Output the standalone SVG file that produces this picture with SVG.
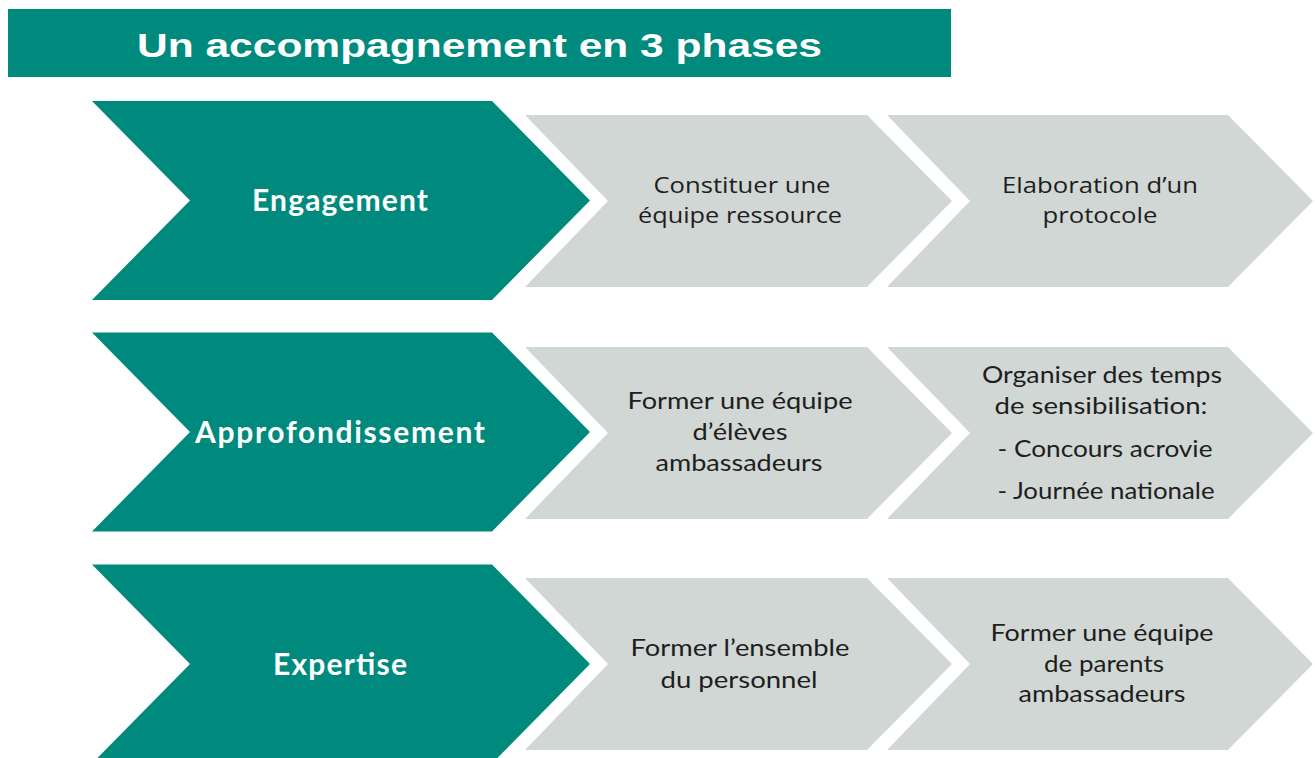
<svg xmlns="http://www.w3.org/2000/svg" width="1315" height="758" viewBox="0 0 1315 758">
  <style>
    .green { fill: #008A7E; }
    .gray { fill: #D1D7D4; }
    .title { font-family: "Liberation Sans", Arial, sans-serif; font-weight: bold; font-size: 33px; fill: #FFFFFF; }
    .phase { font-family: Lato, "Open Sans", sans-serif; font-weight: bold; font-size: 30px; fill: #FFFFFF; text-anchor: middle; }
    .step { font-family: "Open Sans", Lato, sans-serif; font-size: 22px; fill: #1E1E1E; text-anchor: middle; }
    .step2 { font-family: Lato, "Open Sans", sans-serif; font-size: 24px; fill: #1E1E1E; text-anchor: middle; }
  </style>
  <defs>
    <path id="chevGreen" d="M92,-99.5 L492,-99.5 L590,0 L492,99.5 L92,99.5 L190,0 Z"/>
    <path id="chevGray1" d="M525,-86 L867,-86 L952,0 L867,86 L525,86 L608,0 Z"/>
    <path id="chevGray2" d="M887,-86 L1228,-86 L1313,0 L1228,86 L887,86 L970,0 Z"/>
  </defs>
  <rect width="1315" height="758" fill="#FFFFFF"/>

  <g id="title">
    <rect class="green" x="8" y="9" width="943" height="68"/>
    <text class="title" x="137" y="57" textLength="685" lengthAdjust="spacingAndGlyphs">Un accompagnement en 3 phases</text>
  </g>

  <g id="connectors"/>

  <!-- Row 1 -->
  <g id="engagement" transform="translate(0,200.5)">
    <use href="#chevGreen" class="green"/>
    <text class="phase" x="340" y="10" textLength="176">Engagement</text>
  </g>
  <g id="constituer" transform="translate(0,201)">
    <use href="#chevGray1" class="gray"/>
    <text class="step" x="742" y="-8" textLength="177" lengthAdjust="spacingAndGlyphs">Constituer une</text>
    <text class="step" x="740" y="22" textLength="204" lengthAdjust="spacingAndGlyphs">équipe ressource</text>
  </g>
  <g id="elaboration" transform="translate(0,201)">
    <use href="#chevGray2" class="gray"/>
    <text class="step" x="1100" y="-8" textLength="196" lengthAdjust="spacingAndGlyphs">Elaboration d’un</text>
    <text class="step" x="1100" y="22" textLength="115" lengthAdjust="spacingAndGlyphs">protocole</text>
  </g>

  <!-- Row 2 -->
  <g id="approfondissement" transform="translate(0,432)">
    <use href="#chevGreen" class="green"/>
    <text class="phase" x="340" y="11" textLength="290">Approfondissement</text>
  </g>
  <g id="former-eleves" transform="translate(0,433)">
    <use href="#chevGray1" class="gray"/>
    <text class="step2" x="740" y="-24" textLength="225" lengthAdjust="spacingAndGlyphs">Former une équipe</text>
    <text class="step2" x="740" y="7" textLength="95" lengthAdjust="spacingAndGlyphs">d’élèves</text>
    <text class="step2" x="739" y="38" textLength="167" lengthAdjust="spacingAndGlyphs">ambassadeurs</text>
  </g>
  <g id="organiser" transform="translate(0,433)">
    <use href="#chevGray2" class="gray"/>
    <text class="step2" x="1102" y="-50" textLength="240" lengthAdjust="spacingAndGlyphs">Organiser des temps</text>
    <text class="step2" x="1101" y="-19" textLength="213" lengthAdjust="spacingAndGlyphs">de sensibilisation:</text>
    <text class="step2" x="1105" y="24" textLength="215" lengthAdjust="spacingAndGlyphs">- Concours acrovie</text>
    <text class="step2" x="1106" y="66" textLength="217" lengthAdjust="spacingAndGlyphs">- Journée nationale</text>
  </g>

  <!-- Row 3 -->
  <g id="expertise" transform="translate(0,664)">
    <use href="#chevGreen" class="green"/>
    <text class="phase" x="340" y="11" textLength="134">Expertise</text>
  </g>
  <g id="former-personnel" transform="translate(0,664)">
    <use href="#chevGray1" class="gray"/>
    <text class="step2" x="740" y="-8" textLength="219" lengthAdjust="spacingAndGlyphs">Former l’ensemble</text>
    <text class="step2" x="739" y="24" textLength="157" lengthAdjust="spacingAndGlyphs">du personnel</text>
  </g>
  <g id="former-parents" transform="translate(0,664)">
    <use href="#chevGray2" class="gray"/>
    <text class="step2" x="1102" y="-23" textLength="223" lengthAdjust="spacingAndGlyphs">Former une équipe</text>
    <text class="step2" x="1104" y="8" textLength="120" lengthAdjust="spacingAndGlyphs">de parents</text>
    <text class="step2" x="1102" y="38" textLength="167" lengthAdjust="spacingAndGlyphs">ambassadeurs</text>
  </g>
</svg>
